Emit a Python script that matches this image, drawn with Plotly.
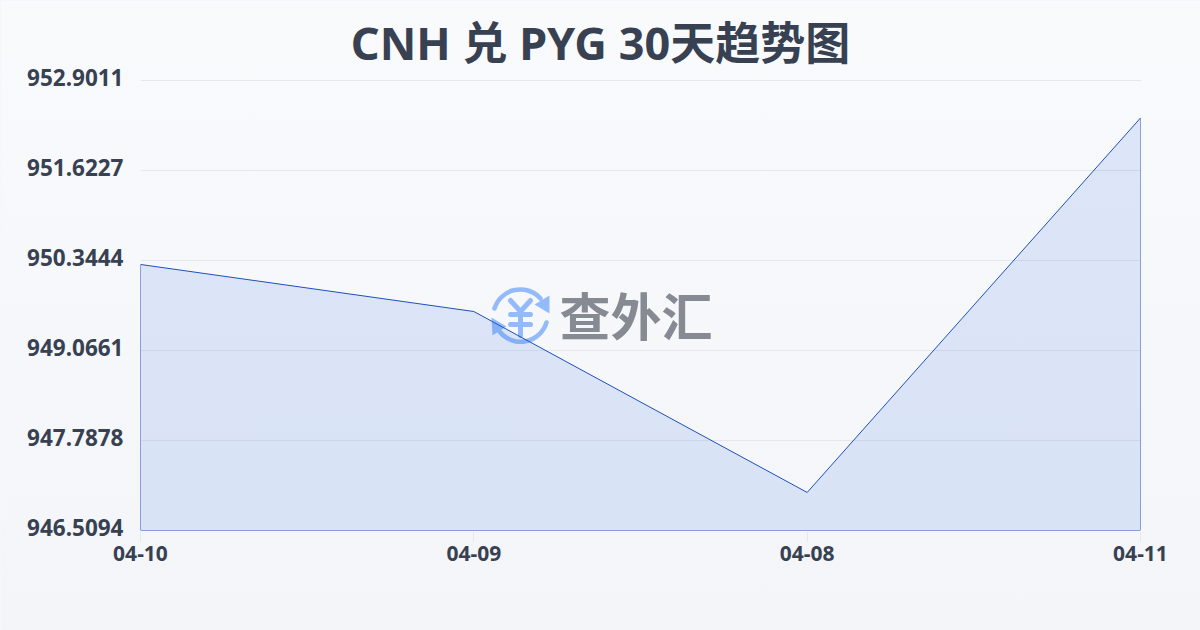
import base64
import plotly.graph_objects as go

title = "CNH 兑 PYG 30天趋势图"
dates = ["04-10", "04-09", "04-08", "04-11"]
rates = [950.288, 949.620, 947.050, 952.369]
y_ticks = [946.5094, 947.7878, 949.0661, 950.3444, 951.6227, 952.9011]
y_labels = ["946.5094", "947.7878", "949.0661", "950.3444", "951.6227", "952.9011"]
brand = "查外汇"

def uri(svg):
    return "data:image/svg+xml;base64," + base64.b64encode(svg.encode()).decode()

bg = ('<svg xmlns="http://www.w3.org/2000/svg" width="1200" height="630">'
      '<defs><linearGradient id="g" x1="0" y1="0" x2="0" y2="1">'
      '<stop offset="0" stop-color="#f9fafc"/><stop offset="1" stop-color="#f3f5f8"/>'
      '</linearGradient></defs><rect width="1200" height="630" fill="url(#g)"/></svg>')

icon = ('<svg xmlns="http://www.w3.org/2000/svg" width="60" height="60" viewBox="0 0 60 60">'
        '<g fill="none" stroke="#93bbfa" stroke-width="4.5" stroke-linecap="round">'
        '<path d="M4 23 A27 27 0 0 1 50 13"/>'
        '<path d="M56 37 A27 27 0 0 1 9 46"/>'
        '<path d="M20 15 L30 26 L40 15 M20 29 H40 M20 39 H40 M30 26 V50" stroke-width="5"/>'
        '</g><g fill="#93bbfa"><path d="M44 19 L59 10 L59 28 Z"/><path d="M1 32 L16 41 L2 50 Z"/></g></svg>')

font = "Noto Sans, Noto Sans CJK SC, sans-serif"
text = "#374151"

# plot area in pixels, used only to place decorations in paper coordinates
L, T, W, H = 140, 78, 1000, 452
px = lambda v: (v - L) / W
py = lambda v: 1 - (v - T) / H

fig = go.Figure()
fig.add_trace(go.Scatter(
    x=dates + [dates[-1], dates[0], dates[0]],
    y=rates + [y_ticks[0], y_ticks[0], rates[0]],
    mode="lines", fill="toself",
    fillcolor="rgba(37,99,235,0.13)",
    line=dict(color="#1e50bc", width=1),
    hoverinfo="skip", showlegend=False,
))
fig.update_layout(
    width=1200, height=630, autosize=False,
    margin=dict(l=140, r=60, t=78, b=100, pad=0),
    paper_bgcolor="#f6f7fa", plot_bgcolor="rgba(0,0,0,0)",
    showlegend=False,
    title=dict(text=title, x=0.5, xanchor="center", y=0.93, yanchor="middle",
               font=dict(family=font, size=45, color=text, weight=700)),
    xaxis=dict(type="category", categoryorder="array", categoryarray=dates,
               range=[0, 3], showgrid=False, zeroline=False, showline=False,
               ticks="outside", ticklen=10, tickwidth=1, tickcolor="#e5e7eb",
               ticklabelstandoff=-6,
               tickfont=dict(family=font, size=21, color=text, weight=700)),
    yaxis=dict(range=[y_ticks[0], y_ticks[-1] + 0.0284], tickmode="array",
               tickvals=y_ticks, ticktext=y_labels,
               showgrid=True, gridcolor="#e5e7eb", gridwidth=1, zeroline=False,
               showline=False, ticks="", ticklabelstandoff=16, ticklabelshift=-2,
               tickfont=dict(family=font, size=22.5, color=text, weight=700)),
    images=[
        dict(source=uri(bg), xref="paper", yref="paper", x=px(0), y=py(0),
             sizex=1200 / W, sizey=630 / H, xanchor="left", yanchor="top",
             sizing="stretch", layer="below"),
        dict(source=uri(icon), xref="paper", yref="paper", x=px(490), y=py(285),
             sizex=60 / W, sizey=60 / H, xanchor="left", yanchor="top",
             sizing="stretch", layer="below"),
    ],
    annotations=[dict(text=brand, xref="paper", yref="paper", x=px(557), y=py(313),
                      xanchor="left", yanchor="middle", showarrow=False,
                      font=dict(family="Noto Sans CJK SC, sans-serif", size=51,
                                color="#868a92", weight=700))],
)
fig.write_html("out.html", config={"displayModeBar": False},
               post_script=("document.documentElement.style.background='#f6f7fa';"
                            "document.documentElement.style.overflow='hidden';"
                            "document.body.style.margin='0';"
                            "var s=document.querySelectorAll('.main-svg');"
                            "s.forEach(function(e){e.style.transform='translate(0.5px,0.5px)';});"))
